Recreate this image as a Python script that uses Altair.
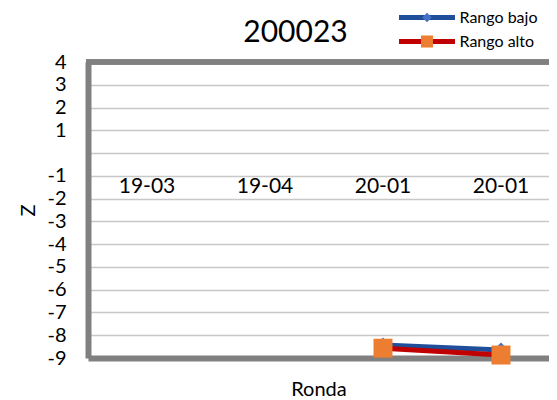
import altair as alt
import pandas as pd

# ---- data ----
rondas = ["19-03", "19-04", "20-01", "20-01"]
ronda_idx = [1, 2, 3, 4]
series = ["Rango bajo", "Rango alto"]
rango_bajo = [None, None, -8.43, -8.65]
rango_alto = [None, None, -8.57, -8.87]
y_ticks = [4, 3, 2, 1, 0, -1, -2, -3, -4, -5, -6, -7, -8, -9]

# marker legend uses its own (invisible-label) copy of the series names so it
# is not merged with the line legend; both are drawn on top of each other
series_pt = [s + " " for s in series]

rows = []
for s, sp, vals in zip(series, series_pt, [rango_bajo, rango_alto]):
    for i, v in zip(ronda_idx, vals):
        if v is not None:
            rows.append({"idx": i, "serie": s, "serie_pt": sp, "z": v})
df = pd.DataFrame(rows)
labels_df = pd.DataFrame({"idx": ronda_idx, "ronda": rondas})

FONT = "Lato"
W, H = 461, 296
LINE_COLORS = ["#1f4e9a", "#c00000"]
MARK_COLORS = ["#4472c4", "#ed7d31"]
DIAMOND = "M0,-0.17L0.17,0L0,0.17L-0.17,0Z"
SQUARE = "M-0.214,-0.214H0.214V0.214H-0.214Z"
FRAME = "#808080"

x_scale = alt.Scale(domain=[0.5, 0.5 + W / 118], nice=False, zero=False)
y_scale = alt.Scale(domain=[-9, 4], nice=False, zero=False)

x_axis = alt.Axis(title="Ronda", labels=False, ticks=False, grid=False,
                  domainColor=FRAME, domainWidth=6,
                  titleFont=FONT, titleFontSize=20, titleFontWeight="normal",
                  titleColor="black", titlePadding=21)
y_axis = alt.Axis(title="Z", values=y_ticks,
                  labelExpr="datum.value == 0 ? '' : toString(datum.value)",
                  ticks=False, labelPadding=22, labelOverlap=False,
                  labelFont=FONT, labelFontSize=20, labelColor="black",
                  domainColor=FRAME, domainWidth=6,
                  grid=True, gridColor="#c8c8c8", gridWidth=1.5,
                  titleFont=FONT, titleFontSize=20, titleFontWeight="normal",
                  titleColor="black", titlePadding=8)

x_enc = alt.X("idx:Q", scale=x_scale, axis=x_axis)
y_enc = alt.Y("z:Q", scale=y_scale, axis=y_axis)

LEG_X, LEG_Y = 308.5, -54.5
common_leg = dict(orient="none", legendX=LEG_X, legendY=LEG_Y, title=None,
                  padding=0, clipHeight=20, rowPadding=4, symbolSize=3136,
                  symbolStrokeWidth=5, labelFont=FONT, labelFontSize=16,
                  labelOffset=2, labelColor="black")

lines = alt.Chart(df).mark_line(strokeWidth=5, strokeCap="round").encode(
    x=x_enc, y=y_enc,
    stroke=alt.Stroke("serie:N",
                      scale=alt.Scale(domain=series, range=LINE_COLORS),
                      legend=alt.Legend(symbolType="M-1,0H1", **common_leg)),
)

points = alt.Chart(df).mark_point(filled=True, opacity=1, strokeWidth=0, size=7860).encode(
    x=x_enc, y=y_enc,
    fill=alt.Fill("serie_pt:N", scale=alt.Scale(domain=series_pt, range=MARK_COLORS),
                  legend=alt.Legend(symbolStrokeColor="transparent", labelOpacity=0,
                                    symbolOpacity=1, **common_leg)),
    shape=alt.Shape("serie_pt:N", scale=alt.Scale(domain=series_pt, range=[DIAMOND, SQUARE]),
                    legend=alt.Legend(symbolStrokeColor="transparent", labelOpacity=0,
                                      symbolOpacity=1, **common_leg)),
)

cat_labels = alt.Chart(labels_df).mark_text(font=FONT, fontSize=21, color="black",
                                             baseline="middle").encode(
    x=alt.X("idx:Q", scale=x_scale, axis=x_axis),
    y=alt.datum(-1.5, scale=y_scale, axis=y_axis),
    text="ronda:N",
)

# top edge of the plot frame (the back wall of the Excel chart)
top_frame = alt.Chart(labels_df).mark_rule(color=FRAME, strokeWidth=5).encode(
    y=alt.datum(4, scale=y_scale, axis=y_axis),
    x=alt.value(-2), x2=alt.value(W),
)

chart = alt.layer(top_frame, cat_labels, lines, points).properties(
    width=W, height=H,
    title=alt.TitleParams("200023", font=FONT, fontSize=30, fontWeight="normal",
                          color="black", anchor="middle", frame="group",
                          baseline="alphabetic", offset=-64.5, dx=-23),
    autosize=alt.AutoSizeParams(type="none"),
    padding={"left": 80, "top": 54, "right": 0, "bottom": 42},
    background="white",
).configure_view(stroke=None)

chart.save("out.html", embed_options={"renderer": "svg", "actions": False})
